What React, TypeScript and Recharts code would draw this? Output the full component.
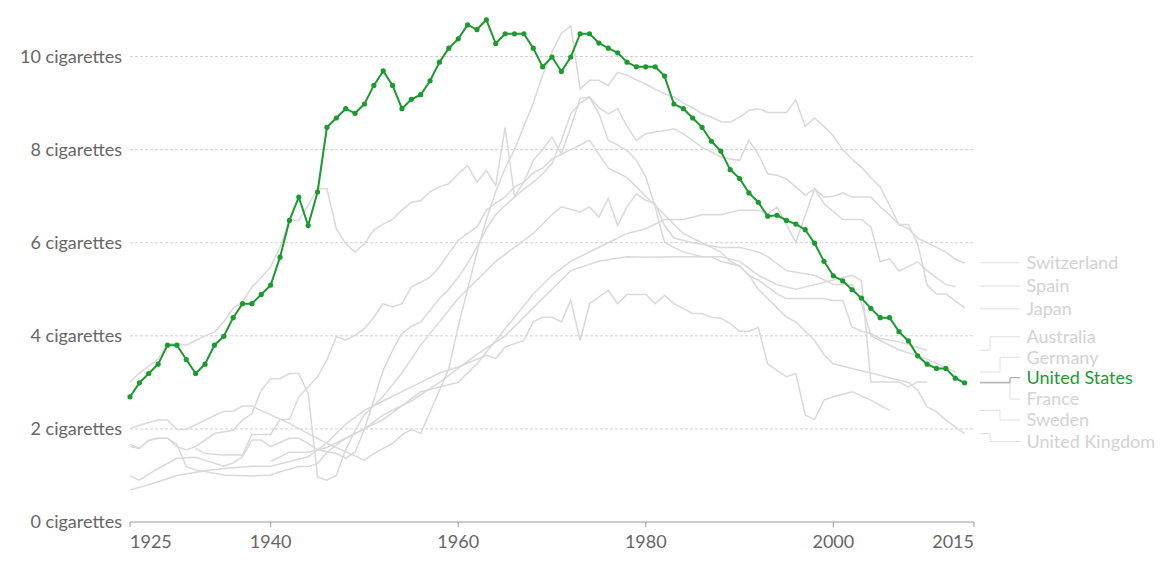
import React from 'react';
import { LineChart, Line, XAxis, YAxis, CartesianGrid } from 'recharts';

// ---------- data ----------
const US_START = 1925;
const usValues = [
  2.69, 2.99, 3.19, 3.39, 3.8, 3.8, 3.49, 3.19, 3.39, 3.8,
  3.99, 4.39, 4.69, 4.69, 4.89, 5.09, 5.69, 6.48, 6.98, 6.37,
  7.09, 8.48, 8.68, 8.88, 8.78, 8.98, 9.38, 9.69, 9.38, 8.88,
  9.08, 9.18, 9.48, 9.88, 10.18, 10.38, 10.68, 10.58, 10.79, 10.28,
  10.49, 10.49, 10.49, 10.18, 9.78, 9.99, 9.68, 9.99, 10.49, 10.49,
  10.29, 10.18, 10.08, 9.88, 9.78, 9.78, 9.78, 9.58, 8.98, 8.88,
  8.68, 8.48, 8.18, 7.97, 7.57, 7.38, 7.07, 6.87, 6.57, 6.59,
  6.48, 6.4, 6.28, 5.99, 5.6, 5.29, 5.18, 4.99, 4.81, 4.59,
  4.39, 4.39, 4.09, 3.89, 3.57, 3.39, 3.3, 3.3, 3.09, 2.99,
];

const ukData: [number, number][] = [
  [1925, 3.0], [1926, 3.2], [1927, 3.35], [1928, 3.5], [1929, 3.83], [1930, 3.83], [1931, 3.8], [1932, 3.9],
  [1933, 4.0], [1934, 4.08], [1935, 4.3], [1936, 4.59], [1937, 4.73], [1938, 5.05], [1939, 5.26], [1940, 5.48],
  [1941, 5.91], [1942, 6.48], [1943, 6.48], [1944, 6.8], [1945, 7.16], [1946, 7.16], [1947, 6.3], [1948, 5.98],
  [1949, 5.8], [1950, 5.98], [1951, 6.27], [1952, 6.4], [1953, 6.5], [1954, 6.7], [1955, 6.87], [1956, 6.9],
  [1957, 7.1], [1958, 7.2], [1959, 7.27], [1960, 7.48], [1961, 7.66], [1962, 7.3], [1963, 7.55], [1964, 7.23],
  [1965, 8.48], [1966, 7.0], [1967, 7.3], [1968, 7.77], [1969, 8.0], [1970, 8.27], [1971, 7.91], [1972, 8.48],
  [1973, 9.1], [1974, 9.13], [1975, 8.77], [1976, 8.2], [1977, 8.1], [1978, 7.98], [1979, 7.77], [1980, 7.41],
  [1981, 6.77], [1982, 6.01], [1983, 5.9], [1984, 5.8], [1985, 5.75], [1986, 5.7], [1987, 5.7], [1988, 5.6],
  [1989, 5.55], [1990, 5.5], [1991, 5.3], [1992, 5.0], [1993, 4.8], [1994, 4.6], [1995, 4.4], [1996, 4.3],
  [1997, 4.1], [1998, 3.9], [1999, 3.6], [2000, 3.4], [2002, 3.3], [2004, 3.2], [2006, 3.1], [2008, 3.0],
  [2009, 2.83], [2010, 2.47], [2011, 2.37], [2012, 2.19], [2014, 1.9],
];

const japanData: [number, number][] = [
  [1925, 2.0], [1926, 2.08], [1928, 2.19], [1929, 2.19], [1930, 1.99], [1931, 1.99], [1933, 2.19], [1935, 2.38],
  [1936, 2.38], [1937, 2.49], [1938, 2.49], [1940, 2.3], [1942, 2.12], [1944, 1.9], [1946, 1.69], [1950, 1.33],
  [1951, 1.47], [1953, 1.69], [1954, 1.87], [1955, 1.99], [1956, 1.9], [1958, 2.83], [1959, 3.3], [1960, 4.2],
  [1961, 5.0], [1962, 5.8], [1963, 6.5], [1964, 7.1], [1965, 7.6], [1966, 8.0], [1967, 8.5], [1968, 9.0],
  [1969, 9.6], [1970, 10.1], [1971, 10.5], [1972, 10.66], [1973, 9.3], [1974, 9.49], [1975, 9.49], [1976, 9.38],
  [1977, 9.66], [1978, 9.6], [1979, 9.5], [1980, 9.41], [1981, 9.3], [1982, 9.2], [1983, 9.13], [1984, 9.0],
  [1985, 8.9], [1986, 8.77], [1987, 8.7], [1988, 8.6], [1989, 8.59], [1990, 8.7], [1991, 8.84], [1992, 8.88],
  [1993, 8.8], [1994, 8.8], [1995, 8.8], [1996, 9.07], [1997, 8.5], [1998, 8.68], [1999, 8.5], [2000, 8.3],
  [2001, 8.0], [2002, 7.8], [2003, 7.62], [2004, 7.4], [2005, 7.2], [2006, 6.8], [2007, 6.39], [2008, 6.39],
  [2009, 5.98], [2010, 5.09], [2011, 4.9], [2012, 4.9], [2013, 4.75], [2014, 4.6],
];

const switzerlandData: [number, number][] = [
  [1925, 0.99], [1926, 0.9], [1928, 1.15], [1930, 1.37], [1932, 1.39], [1933, 1.33], [1935, 1.2], [1936, 1.27],
  [1937, 1.4], [1938, 1.76], [1939, 1.76], [1940, 1.62], [1942, 1.8], [1943, 1.8], [1944, 1.69], [1945, 1.55],
  [1947, 1.47], [1948, 1.37], [1949, 1.5], [1950, 2.0], [1951, 2.62], [1952, 3.26], [1953, 3.69], [1954, 4.05],
  [1955, 4.2], [1956, 4.3], [1957, 4.55], [1958, 4.8], [1959, 5.0], [1960, 5.26], [1961, 5.55], [1962, 5.91],
  [1963, 6.3], [1964, 6.6], [1965, 6.8], [1966, 6.98], [1967, 7.15], [1968, 7.3], [1969, 7.48], [1970, 7.7],
  [1971, 8.2], [1972, 8.77], [1973, 9.0], [1974, 9.13], [1975, 8.9], [1976, 8.77], [1977, 8.88], [1978, 8.5],
  [1979, 8.2], [1980, 8.34], [1981, 8.38], [1982, 8.41], [1983, 8.45], [1984, 8.34], [1985, 8.2], [1986, 8.05],
  [1987, 7.95], [1988, 7.84], [1989, 7.8], [1990, 7.77], [1991, 8.2], [1992, 7.9], [1993, 7.48], [1994, 7.45],
  [1995, 7.37], [1996, 7.2], [1997, 7.02], [1998, 7.16], [1999, 6.98], [2000, 7.0], [2001, 7.07], [2002, 6.98],
  [2003, 6.98], [2004, 6.98], [2005, 6.77], [2006, 6.6], [2007, 6.39], [2008, 6.3], [2009, 6.1], [2010, 6.0],
  [2011, 5.9], [2012, 5.8], [2013, 5.65], [2014, 5.56],
];

const spainData: [number, number][] = [
  [1940, 1.3], [1942, 1.5], [1944, 1.5], [1946, 1.6], [1948, 1.8], [1950, 2.0], [1952, 2.2], [1954, 2.5],
  [1956, 2.8], [1958, 2.9], [1960, 3.0], [1962, 3.4], [1964, 3.9], [1966, 4.4], [1968, 4.9], [1970, 5.3],
  [1972, 5.6], [1974, 5.8], [1976, 6.0], [1978, 6.2], [1980, 6.3], [1982, 6.5], [1984, 6.5], [1986, 6.6],
  [1988, 6.6], [1990, 6.7], [1992, 6.7], [1993, 6.62], [1994, 6.77], [1996, 6.01], [1998, 7.16], [1999, 6.84],
  [2001, 6.5], [2003, 6.5], [2004, 6.34], [2005, 5.59], [2006, 5.66], [2007, 5.39], [2009, 5.59], [2010, 5.4],
  [2011, 5.25], [2012, 5.1], [2013, 5.06],
];

const australiaData: [number, number][] = [
  [1932, 1.58], [1933, 1.47], [1935, 1.44], [1937, 1.44], [1938, 1.88], [1940, 1.88], [1941, 2.2], [1942, 2.2],
  [1943, 2.69], [1944, 2.9], [1945, 3.12], [1946, 3.48], [1947, 3.98], [1948, 3.91], [1949, 4.01], [1950, 4.16],
  [1951, 4.4], [1952, 4.69], [1953, 4.62], [1954, 4.69], [1955, 5.05], [1956, 5.15], [1957, 5.26], [1958, 5.48],
  [1959, 5.77], [1960, 6.05], [1961, 6.2], [1962, 6.34], [1963, 6.7], [1964, 6.85], [1965, 6.98], [1966, 7.2],
  [1967, 7.3], [1968, 7.5], [1969, 7.6], [1970, 7.8], [1971, 7.9], [1972, 8.0], [1973, 8.1], [1974, 8.2],
  [1975, 7.9], [1976, 7.6], [1977, 7.5], [1978, 7.4], [1979, 7.2], [1980, 7.0], [1981, 6.8], [1982, 6.6],
  [1983, 6.4], [1984, 6.2], [1985, 6.1], [1986, 6.0], [1987, 5.9], [1988, 5.8], [1989, 5.6], [1990, 5.5],
  [1991, 5.3], [1992, 5.2], [1993, 5.05], [1994, 4.9], [1995, 4.8], [1997, 4.8], [1999, 4.8], [2000, 4.76],
  [2001, 4.76], [2002, 4.19], [2003, 4.1], [2004, 4.05], [2005, 3.94], [2007, 3.87], [2010, 3.69],
];

const germanyData: [number, number][] = [
  [1925, 1.62], [1926, 1.58], [1927, 1.75], [1928, 1.8], [1929, 1.8], [1930, 1.62], [1931, 1.55], [1932, 1.62],
  [1933, 1.76], [1934, 1.9], [1936, 1.97], [1937, 2.19], [1938, 2.33], [1939, 2.83], [1940, 3.08], [1941, 3.08],
  [1942, 3.19], [1943, 3.19], [1944, 2.76], [1945, 0.97], [1946, 0.9], [1947, 1.0], [1948, 1.55], [1949, 1.97],
  [1950, 2.3], [1952, 2.7], [1954, 3.2], [1956, 3.8], [1958, 4.3], [1960, 4.8], [1962, 5.2], [1964, 5.6],
  [1966, 5.9], [1968, 6.2], [1970, 6.6], [1971, 6.77], [1973, 6.66], [1974, 6.77], [1975, 6.55], [1976, 6.95],
  [1977, 6.37], [1978, 6.77], [1979, 7.05], [1980, 6.91], [1981, 6.84], [1982, 6.37], [1983, 6.1], [1985, 6.0],
  [1988, 5.9], [1990, 5.9], [1992, 5.8], [1993, 5.7], [1995, 5.4], [1998, 5.3], [2000, 5.1], [2002, 5.1],
  [2003, 4.7], [2004, 4.0], [2005, 3.9], [2007, 3.7], [2010, 3.5], [2013, 3.22],
];

const franceData: [number, number][] = [
  [1925, 1.67], [1926, 1.58], [1927, 1.76], [1928, 1.8], [1929, 1.8], [1930, 1.67], [1931, 1.19], [1932, 1.12],
  [1935, 1.01], [1938, 0.99], [1940, 1.01], [1941, 1.08], [1943, 1.19], [1944, 1.19], [1945, 1.26], [1946, 1.5],
  [1948, 1.8], [1950, 2.0], [1952, 2.3], [1955, 2.6], [1958, 3.0], [1960, 3.3], [1962, 3.6], [1965, 4.0],
  [1968, 4.6], [1970, 5.0], [1972, 5.4], [1975, 5.6], [1978, 5.7], [1980, 5.69], [1983, 5.7], [1985, 5.7],
  [1988, 5.7], [1990, 5.6], [1992, 5.3], [1994, 5.1], [1996, 5.0], [1998, 5.1], [2000, 5.2], [2002, 5.3],
  [2003, 5.19], [2004, 3.01], [2007, 3.01], [2008, 2.9], [2009, 3.01], [2010, 3.01],
];

const swedenData: [number, number][] = [
  [1925, 0.69], [1927, 0.8], [1930, 1.0], [1933, 1.1], [1935, 1.15], [1938, 1.2], [1940, 1.2], [1942, 1.3],
  [1944, 1.4], [1946, 1.7], [1948, 2.1], [1950, 2.4], [1952, 2.6], [1954, 2.8], [1956, 3.0], [1958, 3.2],
  [1960, 3.33], [1963, 3.58], [1964, 3.51], [1965, 3.76], [1967, 3.9], [1968, 4.3], [1969, 4.4], [1970, 4.4],
  [1971, 4.3], [1972, 4.76], [1973, 3.9], [1974, 4.69], [1976, 4.98], [1977, 4.69], [1978, 4.89], [1980, 4.89],
  [1981, 4.69], [1982, 4.87], [1983, 4.69], [1985, 4.48], [1986, 4.48], [1987, 4.4], [1988, 4.38], [1989, 4.26],
  [1990, 4.1], [1991, 4.1], [1992, 4.18], [1993, 3.4], [1994, 3.26], [1995, 3.12], [1996, 3.19], [1997, 2.3],
  [1998, 2.2], [1999, 2.62], [2000, 2.69], [2002, 2.8], [2004, 2.62], [2006, 2.4],
];

const X_TICKS = [1925, 1940, 1960, 1980, 2000, 2015];
const Y_TICKS = [0, 2, 4, 6, 8, 10];

// label name, data, label position (value units), connector elbow offset
const GRAY_SERIES: { name: string; data: [number, number][]; labelAt: number; elbow: number }[] = [
  { name: 'Switzerland', data: switzerlandData, labelAt: 5.57, elbow: 0 },
  { name: 'Spain', data: spainData, labelAt: 5.07, elbow: 0 },
  { name: 'Japan', data: japanData, labelAt: 4.58, elbow: 0 },
  { name: 'Australia', data: australiaData, labelAt: 3.98, elbow: 10 },
  { name: 'Germany', data: germanyData, labelAt: 3.54, elbow: 20 },
  { name: 'France', data: franceData, labelAt: 2.64, elbow: 30 },
  { name: 'Sweden', data: swedenData, labelAt: 2.19, elbow: 20 },
  { name: 'United Kingdom', data: ukData, labelAt: 1.73, elbow: 10 },
];
const US_LABEL_AT = 3.1;

// ---------- layout ----------
const W = 1156;
const H = 546;
const MARGIN = { top: 2, right: 190, bottom: 0, left: 0 };
const X_AXIS_H = 32;
const Y_AXIS_W = 122;
const Y_MAX = 11;
const PLOT_H = H - MARGIN.top - MARGIN.bottom - X_AXIS_H;
const PXU = PLOT_H / Y_MAX;
const PLOT_RIGHT = W - MARGIN.right;

const GREEN = '#1b9a2f';
const GRAY = '#d9d9d9';
const FONT = 'Lato, "Open Sans", sans-serif';

const toPts = (arr: [number, number][]) => arr.map(([x, y]) => ({ x, y }));
const usPts = usValues.map((y, i) => ({ x: US_START + i, y }));

const EndLabel = ({ cy, endValue, labelAt, elbow, name, textColor, lineColor }: any) => {
  const ly = cy + (endValue - labelAt) * PXU;
  const x0 = PLOT_RIGHT + 6;
  const xe = x0 + elbow;
  const x1 = x0 + 40;
  const d = `M${x0},${cy} H${xe} V${ly} H${x1}`;
  return (
    <g>
      <path d={d} fill="none" stroke={lineColor} strokeWidth={1} />
      <text x={x1 + 6.5} y={ly} dy="0.35em" fill={textColor} fontSize={18} fontFamily={FONT}>
        {name}
      </text>
    </g>
  );
};

const XTick = (props: any) => {
  const { x, y, payload } = props;
  const v = payload.value;
  const anchor = v === X_TICKS[0] ? 'start' : v === X_TICKS[X_TICKS.length - 1] ? 'end' : 'middle';
  return (
    <text x={x} y={y} dy={19} textAnchor={anchor} fill="#666" fontSize={18} fontFamily={FONT}>
      {v}
    </text>
  );
};

export default function App() {
  return (
    <div style={{ width: W, height: H, background: '#fff' }}>
      <LineChart width={W} height={H} margin={MARGIN}>
        <CartesianGrid
          vertical={false}
          horizontalValues={[2, 4, 6, 8, 10]}
          strokeDasharray="3 2"
          stroke="#d0d0d0"
        />
        <XAxis
          type="number"
          dataKey="x"
          domain={[1925, 2015]}
          ticks={X_TICKS}
          height={X_AXIS_H}
          axisLine={{ stroke: '#999' }}
          tickLine={{ stroke: '#999' }}
          tickSize={5}
          tick={<XTick />}
        />
        <YAxis
          type="number"
          domain={[0, Y_MAX]}
          ticks={Y_TICKS}
          width={Y_AXIS_W}
          axisLine={false}
          tickLine={false}
          tick={{ fill: '#666', fontSize: 18, fontFamily: FONT }}
          tickFormatter={(v: number) => `${v} cigarettes`}
        />
        {GRAY_SERIES.map((s) => {
          const pts = toPts(s.data);
          const last = pts.length - 1;
          return (
            <Line
              key={s.name}
              data={pts}
              dataKey="y"
              type="linear"
              stroke={GRAY}
              strokeWidth={1.5}
              isAnimationActive={false}
              activeDot={false}
              dot={(p: any) =>
                p.index === last ? (
                  <EndLabel
                    key={`lbl-${s.name}`}
                    cy={p.cy}
                    endValue={pts[last].y}
                    labelAt={s.labelAt}
                    elbow={s.elbow}
                    name={s.name}
                    textColor="#d2d2d2"
                    lineColor="#e0e0e0"
                  />
                ) : (
                  <g key={`d-${s.name}-${p.index}`} />
                )
              }
            />
          );
        })}
        <Line
          data={usPts}
          dataKey="y"
          type="linear"
          stroke={GREEN}
          strokeWidth={2}
          isAnimationActive={false}
          activeDot={false}
          dot={(p: any) => (
            <g key={`us-${p.index}`}>
              <circle cx={p.cx} cy={p.cy} r={2.6} fill={GREEN} stroke="none" />
              {p.index === usPts.length - 1 ? (
                <EndLabel
                  cy={p.cy}
                  endValue={usPts[usPts.length - 1].y}
                  labelAt={US_LABEL_AT}
                  elbow={30}
                  name="United States"
                  textColor={GREEN}
                  lineColor="#999"
                />
              ) : null}
            </g>
          )}
        />
      </LineChart>
    </div>
  );
}
